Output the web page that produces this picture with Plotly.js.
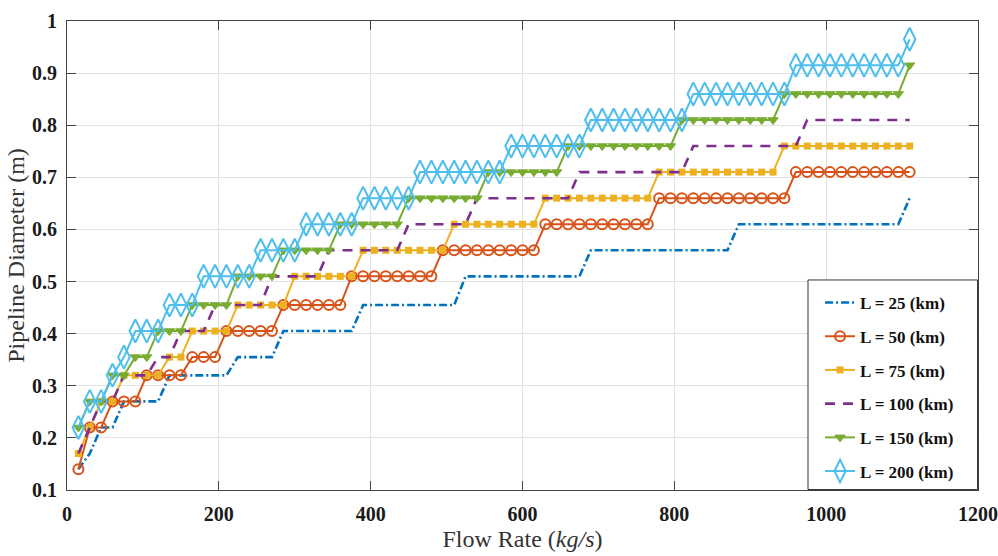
<!DOCTYPE html>
<html>
<head>
<meta charset="utf-8">
<script src="https://cdn.plot.ly/plotly-3.0.1.min.js"></script>
<style>html,body{margin:0;padding:0;background:#fff;}#chart{width:998px;height:556px;}</style>
</head>
<body>
<div id="chart"></div>
<script>
// Flow rate samples (kg/s)
const flowRate = [15,30,45,60,75,90,105,120,135,150,
  165,180,195,210,225,240,255,270,285,300,
  315,330,345,360,375,390,405,420,435,450,
  465,480,495,510,525,540,555,570,585,600,
  615,630,645,660,675,690,705,720,735,750,
  765,780,795,810,825,840,855,870,885,900,
  915,930,945,960,975,990,1005,1020,1035,1050,
  1065,1080,1095,1110];

// Pipeline diameter (m) for each pipeline length
const dL25 = [0.14,0.17,0.22,0.22,0.27,0.27,0.27,0.27,0.32,0.32,
  0.32,0.32,0.32,0.32,0.355,0.355,0.355,0.355,0.405,0.405,
  0.405,0.405,0.405,0.405,0.405,0.455,0.455,0.455,0.455,0.455,
  0.455,0.455,0.455,0.455,0.51,0.51,0.51,0.51,0.51,0.51,
  0.51,0.51,0.51,0.51,0.51,0.56,0.56,0.56,0.56,0.56,
  0.56,0.56,0.56,0.56,0.56,0.56,0.56,0.56,0.61,0.61,
  0.61,0.61,0.61,0.61,0.61,0.61,0.61,0.61,0.61,0.61,
  0.61,0.61,0.61,0.66];

const dL50 = [0.14,0.22,0.22,0.27,0.27,0.27,0.32,0.32,0.32,0.32,
  0.355,0.355,0.355,0.405,0.405,0.405,0.405,0.405,0.455,0.455,
  0.455,0.455,0.455,0.455,0.51,0.51,0.51,0.51,0.51,0.51,
  0.51,0.51,0.56,0.56,0.56,0.56,0.56,0.56,0.56,0.56,
  0.56,0.61,0.61,0.61,0.61,0.61,0.61,0.61,0.61,0.61,
  0.61,0.66,0.66,0.66,0.66,0.66,0.66,0.66,0.66,0.66,
  0.66,0.66,0.66,0.71,0.71,0.71,0.71,0.71,0.71,0.71,
  0.71,0.71,0.71,0.71];

const dL75 = [0.17,0.22,0.27,0.27,0.32,0.32,0.32,0.32,0.355,0.355,
  0.405,0.405,0.405,0.405,0.455,0.455,0.455,0.455,0.455,0.51,
  0.51,0.51,0.51,0.51,0.51,0.56,0.56,0.56,0.56,0.56,
  0.56,0.56,0.56,0.61,0.61,0.61,0.61,0.61,0.61,0.61,
  0.61,0.66,0.66,0.66,0.66,0.66,0.66,0.66,0.66,0.66,
  0.66,0.71,0.71,0.71,0.71,0.71,0.71,0.71,0.71,0.71,
  0.71,0.71,0.76,0.76,0.76,0.76,0.76,0.76,0.76,0.76,
  0.76,0.76,0.76,0.76];

const dL100 = [0.17,0.22,0.27,0.27,0.32,0.32,0.32,0.355,0.355,0.405,
  0.405,0.405,0.455,0.455,0.455,0.455,0.455,0.51,0.51,0.51,
  0.51,0.51,0.56,0.56,0.56,0.56,0.56,0.56,0.56,0.61,
  0.61,0.61,0.61,0.61,0.61,0.66,0.66,0.66,0.66,0.66,
  0.66,0.66,0.66,0.66,0.71,0.71,0.71,0.71,0.71,0.71,
  0.71,0.71,0.71,0.71,0.76,0.76,0.76,0.76,0.76,0.76,
  0.76,0.76,0.76,0.76,0.81,0.81,0.81,0.81,0.81,0.81,
  0.81,0.81,0.81,0.81];

const dL150 = [0.22,0.27,0.27,0.32,0.32,0.355,0.355,0.405,0.405,0.405,
  0.455,0.455,0.455,0.455,0.51,0.51,0.51,0.51,0.56,0.56,
  0.56,0.56,0.56,0.61,0.61,0.61,0.61,0.61,0.61,0.66,
  0.66,0.66,0.66,0.66,0.66,0.66,0.71,0.71,0.71,0.71,
  0.71,0.71,0.71,0.76,0.76,0.76,0.76,0.76,0.76,0.76,
  0.76,0.76,0.76,0.81,0.81,0.81,0.81,0.81,0.81,0.81,
  0.81,0.81,0.86,0.86,0.86,0.86,0.86,0.86,0.86,0.86,
  0.86,0.86,0.86,0.915];

const dL200 = [0.22,0.27,0.27,0.32,0.355,0.405,0.405,0.405,0.455,0.455,
  0.455,0.51,0.51,0.51,0.51,0.51,0.56,0.56,0.56,0.56,
  0.61,0.61,0.61,0.61,0.61,0.66,0.66,0.66,0.66,0.66,
  0.71,0.71,0.71,0.71,0.71,0.71,0.71,0.71,0.76,0.76,
  0.76,0.76,0.76,0.76,0.76,0.81,0.81,0.81,0.81,0.81,
  0.81,0.81,0.81,0.81,0.86,0.86,0.86,0.86,0.86,0.86,
  0.86,0.86,0.86,0.915,0.915,0.915,0.915,0.915,0.915,0.915,
  0.915,0.915,0.915,0.965];

const seriesNames = ['L = 25 (km)','L = 50 (km)','L = 75 (km)','L = 100 (km)','L = 150 (km)','L = 200 (km)'];

const xTicks = [0,200,400,600,800,1000,1200];
const xTickText = ['0','200','400','600','800','1000','1200'];
const yTicks = [0.1,0.2,0.3,0.4,0.5,0.6,0.7,0.8,0.9,1];
const yTickText = ['0.1','0.2','0.3','0.4','0.5','0.6','0.7','0.8','0.9','1'];

const C = {blue:'#0072BD', red:'#D95319', yellow:'#EDB120', purple:'#7E2F8E', green:'#77AC30', cyan:'#4DBEEE'};

function tr(y, name, i, line, marker, mode){
  return {x: flowRate, y: y, name: name, type:'scatter', mode: mode,
    line: line, marker: marker, legendgroup: 'g'+i, showlegend: true};
}

const data = [
  tr(dL25, seriesNames[0], 0, {color:C.blue, width:2.6, dash:'8px,3px,2px,3px'}, {}, 'lines'),
  tr(dL50, seriesNames[1], 1, {color:C.red, width:2}, {symbol:'circle-open', size:10, color:C.red, line:{width:2, color:C.red}}, 'lines+markers'),
  tr(dL75, seriesNames[2], 2, {color:C.yellow, width:2}, {symbol:'square', size:7, color:C.yellow}, 'lines+markers'),
  tr(dL100, seriesNames[3], 3, {color:C.purple, width:2.6, dash:'10px,8px'}, {}, 'lines'),
  tr(dL150, seriesNames[4], 4, {color:C.green, width:2}, {symbol:'triangle-down', size:9, color:C.green, line:{width:1, color:C.green}}, 'lines+markers'),
  tr(dL200, seriesNames[5], 5, {color:C.cyan, width:2}, {symbol:'diamond-tall-open', size:16.5, color:C.cyan, line:{width:2, color:C.cyan}}, 'lines+markers')
];

const tickFont = {family:'Liberation Serif, Times New Roman, serif', size:20, color:'#1a1a1a', weight:'bold'};
const titleFont = {family:'Liberation Serif, Times New Roman, serif', size:24, color:'#333333'};

const layout = {
  width: 998, height: 556,
  margin: {l:67, r:20, t:21, b:66, pad:0},
  paper_bgcolor:'#ffffff', plot_bgcolor:'#ffffff',
  showlegend: true,
  xaxis: {
    range:[0,1200], tickmode:'array', tickvals:xTicks, ticktext:xTickText,
    ticks:'inside', ticklen:9, tickwidth:1, tickcolor:'#444',
    showline:true, linecolor:'#444', linewidth:1, mirror:'ticks',
    showgrid:true, gridcolor:'#e2e2e2', gridwidth:1, zeroline:false,
    tickfont: tickFont, ticklabelstandoff: 6,
    title:{text:'Flow Rate (<i>kg/s</i>)', font:titleFont, standoff:6},
    automargin:false
  },
  yaxis: {
    range:[0.1,1], tickmode:'array', tickvals:yTicks, ticktext:yTickText,
    ticks:'inside', ticklen:9, tickwidth:1, tickcolor:'#444',
    showline:true, linecolor:'#444', linewidth:1, mirror:'ticks',
    showgrid:true, gridcolor:'#e2e2e2', gridwidth:1, zeroline:false,
    tickfont: tickFont, ticklabelstandoff: 5,
    title:{text:'Pipeline Diameter (m)', font:titleFont, standoff:0},
    automargin:false
  },
  shapes: [{
    type:'rect', xref:'paper', yref:'paper', layer:'above',
    x0:0.8134, x1:0.9995, y0:0.001, y1:0.4478,
    line:{color:'#333333', width:1}, fillcolor:'#ffffff'
  }],
  legend: {
    x:0.8266, y:0.4371, xanchor:'left', yanchor:'top',
    bgcolor:'rgba(0,0,0,0)', borderwidth:0,
    font:{family:'Liberation Serif, Times New Roman, serif', size:17, color:'#111', weight:'bold'},
    traceorder:'grouped', tracegroupgap:8.6, itemwidth:30
  }
};

Plotly.newPlot('chart', data, layout, {displayModeBar:false, staticPlot:true});
</script>
</body>
</html>
